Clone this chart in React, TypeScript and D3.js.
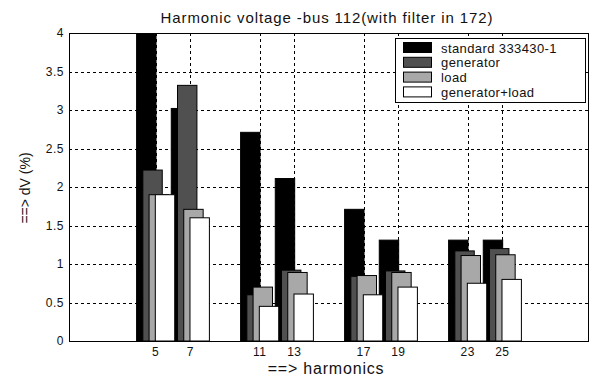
import React, { useEffect, useRef } from 'react';
import * as d3 from 'd3';

// harmonics on the x axis
const harmonics = [5, 7, 11, 13, 17, 19, 23, 25];
// dV (%) per series
const standardValues = [4, 3.02, 2.71, 2.11, 1.71, 1.31, 1.31, 1.31];
const generatorValues = [2.22, 3.32, 0.6, 0.92, 0.84, 0.91, 1.17, 1.2];
const loadValues = [1.9, 1.71, 0.7, 0.89, 0.85, 0.89, 1.11, 1.12];
const genLoadValues = [1.9, 1.6, 0.45, 0.61, 0.6, 0.7, 0.75, 0.8];
const seriesNames = ['standard 333430-1', 'generator', 'load', 'generator+load'];
const seriesColors = ['#000000', '#505050', '#a8a8a8', '#ffffff'];
const yTicks = [0, 0.5, 1, 1.5, 2, 2.5, 3, 3.5, 4];

const W = 592;
const H = 376;
const FONT = '"Liberation Sans", Arial, sans-serif';

export default function App() {
  const ref = useRef<SVGSVGElement>(null);

  useEffect(() => {
    const svg = d3.select(ref.current);
    svg.selectAll('*').remove();

    const left = 69;
    const right = 589;
    const top = 33;
    const bottom = 341;

    const x = d3.scaleLinear().domain([0, 30]).range([left, right]);
    const y = d3.scaleLinear().domain([0, 4]).range([bottom, top]);

    svg.append('rect').attr('width', W).attr('height', H).attr('fill', '#fff');

    svg
      .append('clipPath')
      .attr('id', 'plotClip')
      .append('rect')
      .attr('x', left)
      .attr('y', top)
      .attr('width', right - left)
      .attr('height', bottom - top);

    // grid
    const grid = svg.append('g').attr('stroke', '#000').attr('stroke-width', 1).attr('stroke-dasharray', '3,3');
    yTicks.slice(1, -1).forEach((t) => {
      grid
        .append('line')
        .attr('x1', left)
        .attr('x2', right)
        .attr('y1', Math.round(y(t)) + 0.5)
        .attr('y2', Math.round(y(t)) + 0.5);
    });
    harmonics.forEach((h) => {
      grid
        .append('line')
        .attr('x1', Math.round(x(h)) + 0.5)
        .attr('x2', Math.round(x(h)) + 0.5)
        .attr('y1', top)
        .attr('y2', bottom);
    });

    // bars (overlapping groups)
    const allSeries = [standardValues, generatorValues, loadValues, genLoadValues];
    const barW = 1.12;
    const offset = 0.36;
    const barsG = svg.append('g').attr('clip-path', 'url(#plotClip)');
    allSeries.forEach((vals, si) => {
      barsG
        .selectAll(`.bar${si}`)
        .data(vals)
        .enter()
        .append('rect')
        .attr('class', `bar${si}`)
        .attr('x', (d, i) => x(harmonics[i] + (si - 1.5) * offset - barW / 2))
        .attr('width', x(barW) - x(0))
        .attr('y', (d) => y(d))
        .attr('height', (d) => y(0) - y(d))
        .attr('fill', seriesColors[si])
        .attr('stroke', '#000')
        .attr('stroke-width', 1);
    });

    // frame
    svg
      .append('rect')
      .attr('x', left + 0.5)
      .attr('y', top + 0.5)
      .attr('width', right - left - 1)
      .attr('height', bottom - top)
      .attr('fill', 'none')
      .attr('stroke', '#000');

    // y tick labels
    svg
      .append('g')
      .selectAll('text')
      .data(yTicks)
      .enter()
      .append('text')
      .attr('x', 64)
      .attr('y', (d) => y(d) + 4)
      .attr('text-anchor', 'end')
      .style('font-family', FONT)
      .style('font-size', '12px')
      .style('letter-spacing', '0.5px')
      .attr('fill', '#111')
      .text((d) => `${d}`);

    // x tick labels
    svg
      .append('g')
      .selectAll('text')
      .data(harmonics)
      .enter()
      .append('text')
      .attr('x', (d) => x(d))
      .attr('y', 356)
      .attr('text-anchor', 'middle')
      .style('font-family', FONT)
      .style('font-size', '12px')
      .style('letter-spacing', '0.5px')
      .attr('fill', '#111')
      .text((d) => `${d}`);

    // title
    svg
      .append('text')
      .attr('x', 327)
      .attr('y', 23)
      .attr('text-anchor', 'middle')
      .style('font-family', FONT)
      .style('font-size', '15px')
      .style('letter-spacing', '0.9px')
      .attr('fill', '#111')
      .text('Harmonic voltage -bus 112(with filter in 172)');

    // x label
    svg
      .append('text')
      .attr('x', 326)
      .attr('y', 374)
      .attr('text-anchor', 'middle')
      .style('font-family', FONT)
      .style('font-size', '16px')
      .style('letter-spacing', '0.8px')
      .attr('fill', '#111')
      .text('==> harmonics');

    // y label
    svg
      .append('text')
      .attr('transform', `translate(30, 188) rotate(-90)`)
      .attr('text-anchor', 'middle')
      .style('font-family', FONT)
      .style('font-size', '14px')
      .attr('fill', '#111')
      .text('==> dV (%)');

    // legend
    const lg = svg.append('g').attr('transform', 'translate(395, 38)');
    lg.append('rect')
      .attr('x', 0.5)
      .attr('y', 0.5)
      .attr('width', 190)
      .attr('height', 64)
      .attr('fill', '#fff')
      .attr('stroke', '#000');
    seriesNames.forEach((name, i) => {
      const row = lg.append('g').attr('transform', `translate(0, ${4 + i * 14.8})`);
      row
        .append('rect')
        .attr('x', 8.5)
        .attr('y', 0.5)
        .attr('width', 28)
        .attr('height', 10)
        .attr('fill', seriesColors[i])
        .attr('stroke', '#000');
      row
        .append('text')
        .attr('x', 46)
        .attr('y', 10.5)
        .style('font-family', FONT)
        .style('font-size', '13px')
        .style('letter-spacing', '0.4px')
        .attr('fill', '#111')
        .text(name);
    });
  }, []);

  return (
    <svg
      ref={ref}
      width={W}
      height={H}
      style={{ position: 'absolute', left: 0, top: 0 }}
    />
  );
}
